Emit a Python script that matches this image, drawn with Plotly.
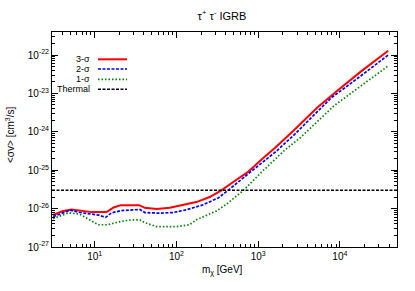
import plotly.graph_objects as go

# ---- data ----
mass_3sig = [3.1, 4, 5.2, 7, 9.2, 14, 17, 21, 28, 35, 41, 57, 83, 120, 175, 255, 355, 500, 745, 1100, 1600, 2700, 5300, 9300, 18000, 39000]
sv_3sig = [6.8e-27, 8.5e-27, 9.5e-27, 8.9e-27, 8.1e-27, 8.1e-27, 1.07e-26, 1.23e-26, 1.26e-26, 1.23e-26, 1.05e-26, 9.8e-27,
           1.05e-26, 1.23e-26, 1.48e-26, 2.0e-26, 3.0e-26, 5.0e-26, 8.9e-26, 1.9e-25, 3.8e-25, 1.07e-24, 4.3e-24, 1.17e-23,
           3.7e-23, 1.29e-22]

mass_2sig = [3.1, 5.0, 6.9, 11.1, 13.6, 16.1, 21.4, 28, 35.7, 41, 63, 91, 132, 213, 325, 430, 600, 800, 1230, 1660, 2700, 7800, 18000, 39000]
sv_2sig = [6.2e-27, 9.1e-27, 7.8e-27, 6.8e-27, 5.9e-27, 7.8e-27, 8.9e-27, 9.3e-27, 9.5e-27, 7.9e-27, 7.6e-27, 7.9e-27,
           9.3e-27, 1.26e-26, 1.9e-26, 3.0e-26, 5.5e-26, 8.9e-26, 1.85e-25, 3.1e-25, 8.0e-25, 7.6e-24, 2.85e-23, 1.0e-22]

mass_1sig = [3.1, 4.8, 6.5, 9.2, 11.1, 14.5, 19.5, 28.3, 35.7, 41, 57, 100, 145, 175, 233, 310, 407, 650, 1100, 2100, 3300, 8500, 18200, 39000]
sv_1sig = [5.5e-27, 7.8e-27, 7.2e-27, 4.7e-27, 3.8e-27, 3.8e-27, 4.5e-27, 5.1e-27, 5.1e-27, 4.3e-27, 3.4e-27, 3.4e-27,
           3.8e-27, 5.1e-27, 6.8e-27, 8.7e-27, 1.29e-26, 2.9e-26, 8.9e-26, 3.3e-25, 7.1e-25, 4.8e-24, 1.58e-23, 5.2e-23]

mass_range = [3, 5e4]
sv_thermal = [3e-26, 3e-26]

x_tickvals = [10, 100, 1000, 10000]
x_ticktext = ["10<sup>1</sup>", "10<sup>2</sup>", "10<sup>3</sup>", "10<sup>4</sup>"]
y_tickvals = [1e-27, 1e-26, 1e-25, 1e-24, 1e-23, 1e-22]
y_ticktext = ["10<sup>-27</sup>", "10<sup>-26</sup>", "10<sup>-25</sup>", "10<sup>-24</sup>", "10<sup>-23</sup>", "10<sup>-22</sup>"]

series_names = ["3-σ", "2-σ", "1-σ", "Thermal"]
series_colors = ["#ff0000", "#0000ff", "#008000", "#000000"]
series_dash = ["solid", "3px,1.5px", "1.5px,2px", "3px,1.5px"]
series_width = [2, 1.7, 1.7, 1.5]

FONT = "Liberation Sans, Arial, Helvetica, sans-serif"

fig = go.Figure()
data = [(mass_3sig, sv_3sig), (mass_2sig, sv_2sig), (mass_1sig, sv_1sig), (mass_range, sv_thermal)]
for (xs, ys), name, col, dash, lw in zip(data, series_names, series_colors, series_dash, series_width):
    fig.add_trace(go.Scatter(x=xs, y=ys, mode="lines", name=name,
                             line=dict(color=col, width=lw, dash=dash), showlegend=False))

L, R, T, B = 52, 18, 32, 44
W, H = 415, 291
pw, ph = W - L - R, H - T - B

def px(x):
    return (x - L) / pw

def py(y):
    return (H - B - y) / ph

axis_common = dict(type="log", showgrid=False, zeroline=False, showline=True, linecolor="black", linewidth=1,
                   mirror="allticks", ticks="inside", ticklen=6, tickcolor="black", tickwidth=1,
                   automargin=False,
                   minor=dict(ticks="inside", ticklen=3, tickcolor="black", showgrid=False, dtick="D1"),
                   tickfont=dict(family=FONT, size=10, color="black"))

fig.update_layout(
    width=W, height=H,
    margin=dict(l=L, r=R, t=T, b=B, autoexpand=False),
    paper_bgcolor="white", plot_bgcolor="white",
    font=dict(family=FONT, size=10, color="black"),
    title=dict(text="τ<sup>+</sup> τ<sup>-</sup> IGRB", x=px(222), xref="paper", xanchor="center",
               y=1 - 16 / H, yref="container", yanchor="middle", font=dict(size=11), automargin=False),
    xaxis=dict(range=[0.4771, 4.699], tickmode="array", tickvals=x_tickvals, ticktext=x_ticktext, **axis_common),
    yaxis=dict(range=[-27, -21.4], tickmode="array", tickvals=y_tickvals, ticktext=y_ticktext, **axis_common),
)

# axis titles
fig.add_annotation(text="&lt;σv&gt; [cm<sup>3</sup>/s]", xref="paper", yref="paper", x=px(10), y=py(135),
                   textangle=-90, showarrow=False, font=dict(size=10), xanchor="center", yanchor="middle")
fig.add_annotation(text="m<sub>χ</sub> [GeV]", xref="paper", yref="paper", x=px(222), y=py(270),
                   showarrow=False, font=dict(size=10), xanchor="center", yanchor="middle")

# gnuplot-style key (text left of sample)
rows = [59.3, 69, 79.3, 89.3]
for name, col, dash, lw, ry in zip(series_names, series_colors, series_dash, series_width, rows):
    fig.add_annotation(text=name, xref="paper", yref="paper", x=px(92), y=py(ry), xanchor="right",
                       yanchor="middle", showarrow=False, font=dict(size=9))
    fig.add_shape(type="line", xref="paper", yref="paper", x0=px(98), x1=px(127), y0=py(ry), y1=py(ry),
                  line=dict(color=col, width=lw, dash=dash))

fig.write_html("out.html", config={"displayModeBar": False},
               post_script="document.body.style.margin='0';document.body.style.padding='0';")
